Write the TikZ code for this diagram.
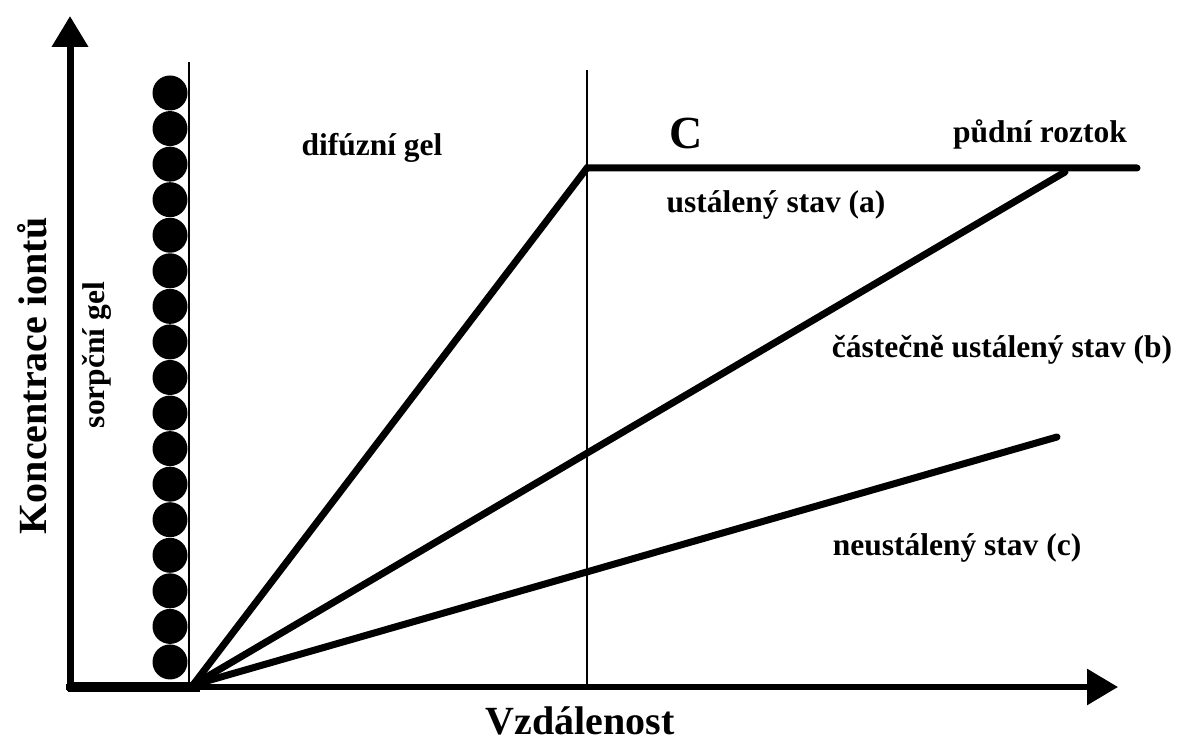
\documentclass[tikz,border=0pt]{standalone}
\usepackage{fontspec}
\setmainfont{Liberation Serif}
\usetikzlibrary{arrows.meta}
\begin{document}
\begin{tikzpicture}[x=1pt,y=-1pt,
  lbl/.style={font=\bfseries\fontsize{31.5}{36}\selectfont, inner sep=0pt},
  axislbl/.style={font=\bfseries\fontsize{40}{46}\selectfont, inner sep=0pt},
  bigc/.style={font=\bfseries\fontsize{46}{52}\selectfont, inner sep=0pt},
  axisline/.style={line width=7pt, -{Triangle[length=31pt,width=35pt]}},
  profile/.style={line width=7pt, line cap=round},
  border/.style={line width=2.8pt},
  bead/.style={fill=black}]
\useasboundingbox (0,0) rectangle (1188,743);
% named points
\coordinate (yb) at (70,691);
\coordinate (yt) at (70,16);
\coordinate (xl) at (66,687);
\coordinate (xr) at (1118,687);
\coordinate (O) at (193,685);
\coordinate (A) at (587,168);
\coordinate (H) at (1137,168);
\coordinate (B) at (1065,172);
\coordinate (Cc) at (1057,437);
\coordinate (s1) at (189,62);
\coordinate (s2) at (189,687);
\coordinate (d1) at (587,70);
\coordinate (d2) at (587,690);
\coordinate (t1) at (68,687);
\coordinate (t2) at (200,687);
% axes
\draw[axisline] (yb) -- (yt);
\draw[line width=6pt, -{Triangle[length=31pt,width=35pt]}] (xl) -- (xr);
\draw[line width=10pt] (t1) -- (t2);
% boundaries
\draw[border] (s1) -- (s2);
\draw[border] (d1) -- (d2);
% beads
\foreach \i in {0,...,16} \fill[bead] (170,{93+\i*35.56}) circle (17.5pt);
% profiles
\draw[profile] (O) -- (A) -- (H);
\draw[profile] (O) -- (B);
\draw[profile] (O) -- (Cc);
% labels
\node[lbl] (dg) at (372,148) {difúzní gel};
\node[bigc] (C) at (686,133) {C};
\node[lbl] (pr) at (1040,134) {půdní roztok};
\node[lbl] (la) at (776,205) {ustálený stav (a)};
\node[lbl] (lb) at (1002,350) {částečně ustálený stav (b)};
\node[lbl] (lc) at (957,548) {neustálený stav (c)};
\node[lbl, rotate=90] (sg) at (97,355) {sorpční gel};
\node[axislbl, rotate=90] (ky) at (32,376) {Koncentrace iontů};
\node[axislbl] (vx) at (580,721) {Vzdálenost};
\end{tikzpicture}
\end{document}
